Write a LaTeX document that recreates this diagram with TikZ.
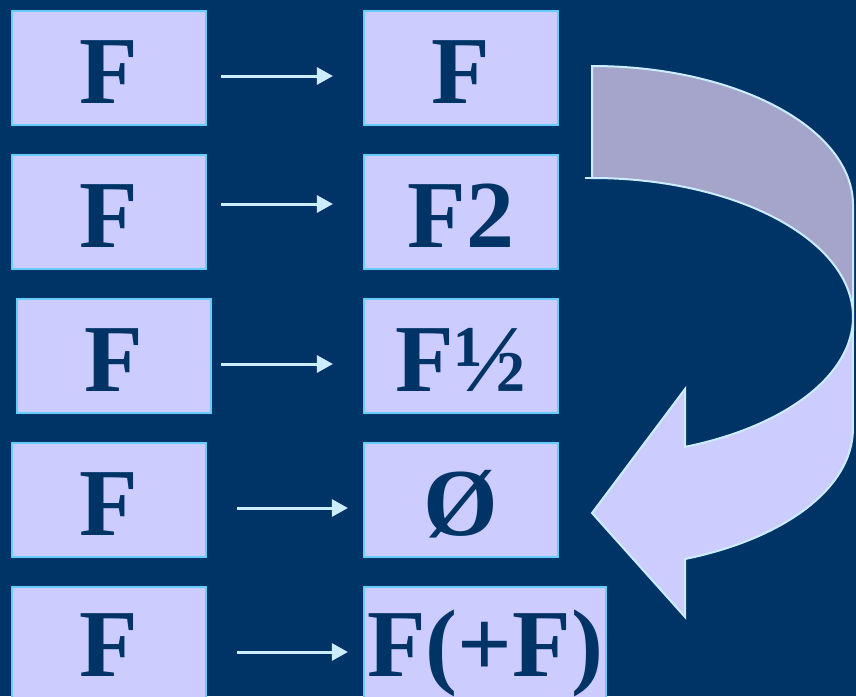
\documentclass[tikz,border=0pt]{standalone}
\usepackage{fontspec}
\setmainfont{Liberation Serif}[BoldFont={Liberation Serif Bold}]
\usetikzlibrary{arrows.meta}
\definecolor{bgnavy}{HTML}{003366}
\definecolor{boxfill}{HTML}{CCCCFF}
\definecolor{boxline}{HTML}{66CCFF}
\definecolor{arrowcol}{HTML}{CCECFF}
\definecolor{backpart}{HTML}{A5A5CC}
\begin{document}
\begin{tikzpicture}[x=1pt,y=-1pt,
  fbox/.style={draw=boxline, fill=boxfill, line width=2.2pt, minimum width=194pt,
    minimum height=114pt, inner sep=0pt, text=bgnavy,
    font=\fontsize{96}{96}\selectfont\bfseries, text height=70pt, text depth=0pt},
  conn/.style={draw=arrowcol, line width=3pt, -{Triangle[length=16pt,width=17pt]}},
  bendline/.style={draw=arrowcol, line width=2pt}]
\useasboundingbox (0,0) rectangle (856,696);
\fill[bgnavy] (0,0) rectangle (856,696);

% left column
\node[fbox] (L1) at (109,68) {F};
\node[fbox] (L2) at (109,212) {F};
\node[fbox] (L3) at (114,356) {F};
\node[fbox] (L4) at (109,500) {F};
\node[fbox, text height=64pt] (L5) at (109,644) {F};

% right column
\node[fbox] (R1) at (461,68) {F};
\node[fbox] (R2) at (461,212) {F2};
\node[fbox] (R3) at (461,356) {F½};
\node[fbox] (R4) at (461,500) {Ø};
\node[fbox, minimum width=242pt, text height=64pt] (R5) at (485,644) {F(+F)};

% connectors
\draw[conn, shorten <=14pt, shorten >=30pt] ([yshift=-8pt]L1.east) -- ([yshift=-8pt]R1.west);
\draw[conn, shorten <=14pt, shorten >=30pt] ([yshift=8pt]L2.east) -- ([yshift=8pt]R2.west);
\draw[conn, shorten <=9pt, shorten >=30pt] ([yshift=-8pt]L3.east) -- ([yshift=-8pt]R3.west);
\draw[conn, shorten <=30pt, shorten >=15pt] ([yshift=-8pt]L4.east) -- ([yshift=-8pt]R4.west);
\draw[conn, shorten <=30pt, shorten >=15pt] ([yshift=-8pt]L5.east) -- ([yshift=-8pt]R5.west);

% curved arrow: back part
\fill[backpart] (592,66) arc[start angle=-90, end angle=0, x radius=261, y radius=139]
  -- (853,317) arc[start angle=0, end angle=-90, x radius=261, y radius=139] -- cycle;
\draw[bendline] (592,66) arc[start angle=-90, end angle=0, x radius=261, y radius=139]
  -- (853,317) arc[start angle=0, end angle=-90, x radius=261, y radius=139] -- cycle;
\draw[bendline, line width=1.5pt] (585,178) -- (592,178);
% curved arrow: front part with head
\fill[boxfill] (853,317) arc[start angle=0, end angle=69.1, x radius=261, y radius=139]
  -- (685,389) -- (592,513) -- (685,617) -- (685,559)
  arc[start angle=69.1, end angle=0, x radius=261, y radius=139] -- cycle;
\draw[bendline, line join=miter] (853,317) arc[start angle=0, end angle=69.1, x radius=261, y radius=139]
  -- (685,389) -- (592,513) -- (685,617) -- (685,559)
  arc[start angle=69.1, end angle=0, x radius=261, y radius=139] -- cycle;
\end{tikzpicture}
\end{document}
